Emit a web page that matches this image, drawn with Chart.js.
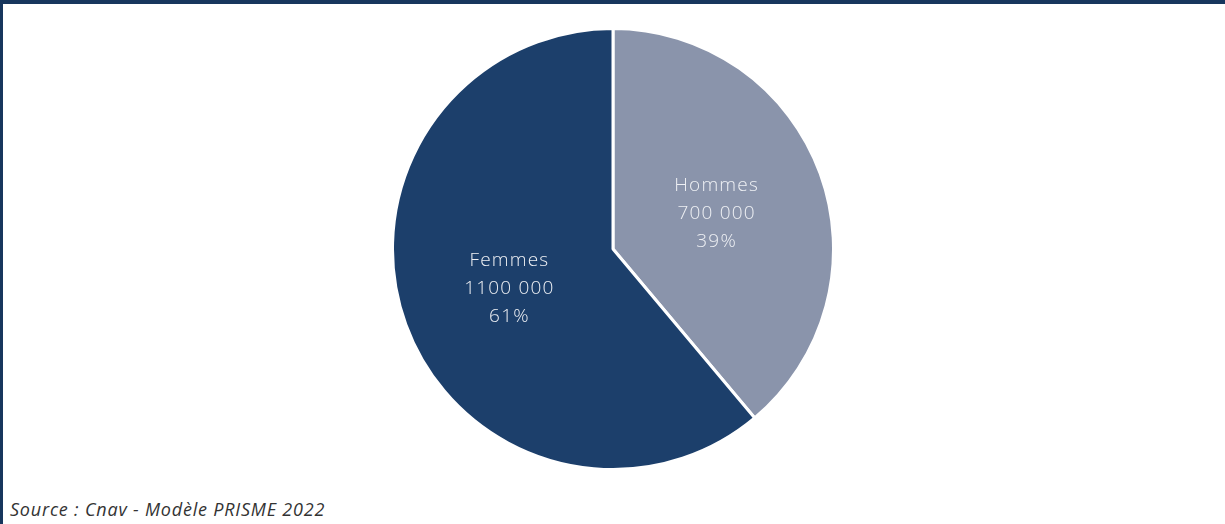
<!DOCTYPE html>
<html>
<head>
<meta charset="utf-8">
<script src="https://cdn.jsdelivr.net/npm/chart.js@4"></script>
<style>
  html, body { margin: 0; padding: 0; background: #fff; }
  #frame {
    position: relative;
    width: 1222px; height: 520px;
    border-top: 4px solid #17365d;
    border-left: 3px solid #17365d;
    background: #fff;
    overflow: hidden;
  }
  #chartBox {
    position: absolute;
    left: 388px; top: 23px;
    width: 444px; height: 444px;
  }
  #source {
    position: absolute;
    left: 7px; top: 493px;
    font-family: "Open Sans", "Noto Sans", sans-serif;
    font-style: italic;
    font-size: 18px;
    letter-spacing: 0.8px;
    color: #333;
  }
</style>
</head>
<body>
<div id="frame">
  <div id="chartBox"><canvas id="pieChart"></canvas></div>
  <div id="source">Source : Cnav - Modèle PRISME 2022</div>
</div>
<script>
// data
const categories = ['Hommes', 'Femmes'];
const counts = [700000, 1100000];
const countLabels = ['700 000', '1100 000'];
const percentLabels = ['39%', '61%'];
const sliceColors = ['#8a94ab', '#1c3f6b'];

// draws the three text lines in the middle of each slice
const sliceLabels = {
    id: 'sliceLabels',
    afterDatasetsDraw(chart) {
        const ctx = chart.ctx;
        const meta = chart.getDatasetMeta(0);
        ctx.save();
        ctx.font = '300 19px "Open Sans", "Noto Sans", sans-serif';
        ctx.letterSpacing = '1.2px';
        ctx.fillStyle = '#eef0f4';
        ctx.textAlign = 'center';
        ctx.textBaseline = 'middle';
        meta.data.forEach((arc, i) => {
            const pos = arc.tooltipPosition();
            const lines = [categories[i], countLabels[i], percentLabels[i]];
            lines.forEach((txt, j) => {
                ctx.fillText(txt, pos.x, pos.y + 2 + (j - 1) * 28);
            });
        });
        ctx.restore();
    }
};

const ctx = document.getElementById('pieChart').getContext('2d');
new Chart(ctx, {
    type: 'pie',
    data: {
        labels: categories,
        datasets: [{
            data: counts,
            backgroundColor: sliceColors,
            borderColor: '#ffffff',
            borderWidth: 3,
        }],
    },
    options: {
        responsive: true,
        maintainAspectRatio: false,
        animation: false,
        plugins: {
            legend: { display: false },
            tooltip: { enabled: false },
        },
    },
    plugins: [sliceLabels],
});
</script>
</body>
</html>
